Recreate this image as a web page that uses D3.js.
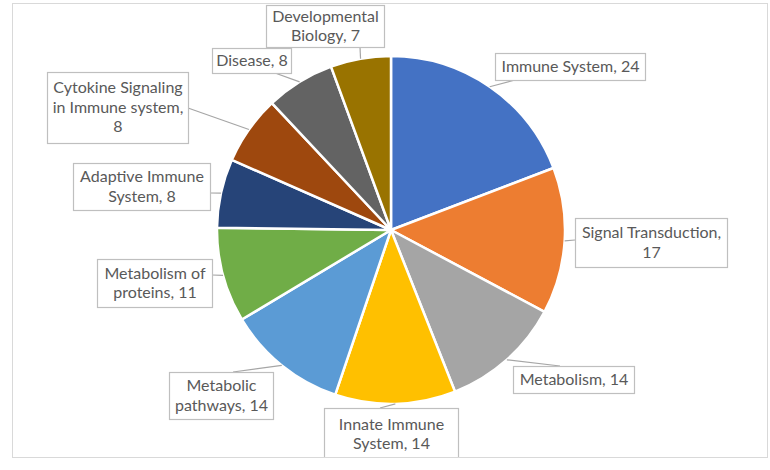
<!DOCTYPE html>
<html><head><meta charset="utf-8">
<script src="https://cdn.jsdelivr.net/npm/d3@7"></script>
<style>body{margin:0;background:#fff}svg{display:block}</style>
</head><body>
<svg id="c" width="770" height="470"></svg>
<script>
const categories = ["Immune System","Signal Transduction","Metabolism","Innate Immune System","Metabolic pathways","Metabolism of proteins","Adaptive Immune System","Cytokine Signaling in Immune system","Disease","Developmental Biology"];
const values = [24,17,14,14,14,11,8,8,8,7];
const labelLines = [["Immune System, 24"],["Signal Transduction,","17"],["Metabolism, 14"],["Innate Immune","System, 14"],["Metabolic","pathways, 14"],["Metabolism of","proteins, 11"],["Adaptive Immune","System, 8"],["Cytokine Signaling","in Immune system,","8"],["Disease, 8"],["Developmental","Biology, 7"]];
const colors = ["#4472C4","#ED7D31","#A5A5A5","#FFC000","#5B9BD5","#70AD47","#264478","#9E480E","#636363","#997300"];
// label box layout: x, y, w, h, anchorX, anchorY
const boxes = [[495,53,150,27,515,80],[575,218,152,49,575,240],[513,366,121,27,560,366],[324,408,134,52,380,408],[169,372,104,47,233,372],[97,259,115,48,212,275],[73,163,137,47,210,193],[47,72,141,71,188,108],[212,48,79,25,275,73],[266,5,118,42,360,47]];

const svg = d3.select("#c");
svg.append("defs").append("clipPath").attr("id","fr").append("rect").attr("x",12).attr("y",3).attr("width",755).attr("height",454);
svg.append("rect").attr("x",12.5).attr("y",3.5).attr("width",755).attr("height",454).attr("fill","#fff").attr("stroke","#D9D9D9");

const cx = 391, cy = 230, R = 174;
const pie = d3.pie().sort(null).value(d => d)(values);
const arc = d3.arc().innerRadius(0).outerRadius(R);
const g = svg.append("g").attr("transform",`translate(${cx},${cy})`);
g.selectAll("path").data(pie).join("path").attr("d",arc).attr("fill",(d,i)=>colors[i]).attr("stroke","#fff").attr("stroke-width",2.5).attr("stroke-linejoin","round");

const lg = svg.append("g").attr("clip-path","url(#fr)");
pie.forEach((d,i)=>{
  const a = (d.startAngle+d.endAngle)/2;
  const px = cx + R*Math.sin(a), py = cy - R*Math.cos(a);
  const b = boxes[i];
  lg.append("line").attr("x1",px).attr("y1",py).attr("x2",b[4]).attr("y2",b[5]).attr("stroke","#A6A6A6").attr("stroke-width",1.2);
});
pie.forEach((d,i)=>{
  const b = boxes[i];
  lg.append("rect").attr("x",b[0]+0.5).attr("y",b[1]+0.5).attr("width",b[2]).attr("height",b[3]).attr("fill","#fff").attr("stroke","#BFBFBF").attr("stroke-width",1.2);
  const lines = labelLines[i];
  const n = lines.length, lh = 19.5;
  const top = b[1] + b[3]/2 - n*lh/2;
  lines.forEach((t,k)=>{
    lg.append("text").attr("x",b[0]+b[2]/2+0.5).attr("y",top + k*lh + 15).attr("text-anchor","middle")
      .attr("font-family","Lato, 'Open Sans', sans-serif").attr("font-size",16).attr("fill","#595959").text(t);
  });
});
</script>
</body></html>
